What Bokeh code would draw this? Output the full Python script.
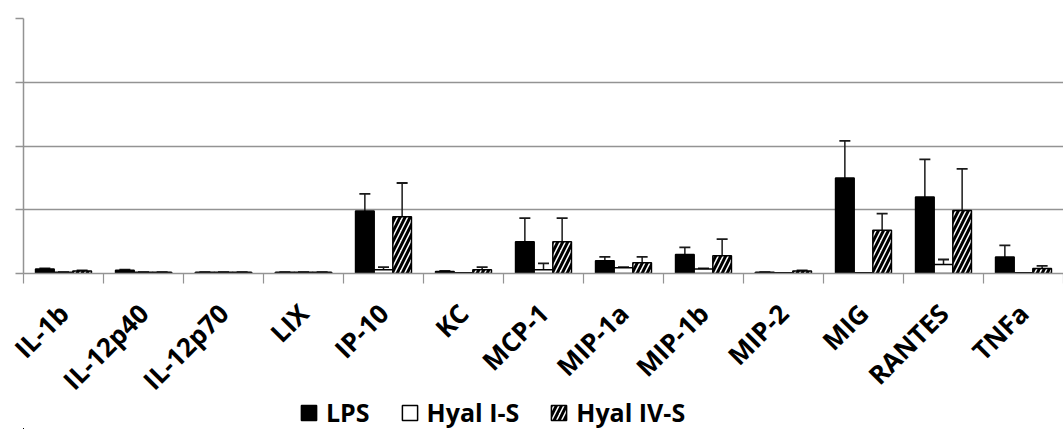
import math
from bokeh.plotting import figure
from bokeh.layouts import column
from bokeh.models import (ColumnDataSource, Range1d, FixedTicker, Whisker, TeeHead,
                          Legend, LegendItem)
from bokeh.transform import dodge
from bokeh.embed import file_html
from bokeh.resources import INLINE

categories = ["IL-1b", "IL-12p40", "IL-12p70", "LIX", "IP-10", "KC", "MCP-1",
              "MIP-1a", "MIP-1b", "MIP-2", "MIG", "RANTES", "TNFa"]
lps = [0.07, 0.05, 0.02, 0.02, 0.98, 0.03, 0.50, 0.20, 0.30, 0.02, 1.50, 1.20, 0.26]
lps_err = [0.01, 0.01, 0.0, 0.0, 0.27, 0.01, 0.37, 0.06, 0.11, 0.0, 0.58, 0.59, 0.18]
hyal1 = [0.02, 0.02, 0.02, 0.02, 0.06, 0.01, 0.06, 0.09, 0.07, 0.01, 0.01, 0.14, 0.01]
hyal1_err = [0.0, 0.0, 0.0, 0.0, 0.04, 0.0, 0.10, 0.01, 0.01, 0.0, 0.0, 0.08, 0.0]
hyal4 = [0.04, 0.02, 0.02, 0.02, 0.89, 0.06, 0.50, 0.17, 0.28, 0.04, 0.68, 0.99, 0.08]
hyal4_err = [0.01, 0.0, 0.0, 0.0, 0.53, 0.04, 0.37, 0.09, 0.26, 0.01, 0.26, 0.65, 0.04]
series_names = ["LPS", "Hyal I-S", "Hyal IV-S"]
y_ticks = [0, 1, 2, 3, 4]

n = len(categories)
centers = [i + 0.5 for i in range(n)]
bounds = [float(i) for i in range(n + 1)]

src = ColumnDataSource(dict(
    x=centers,
    lps=lps, lps_u=[a + b for a, b in zip(lps, lps_err)],
    h1=hyal1, h1_u=[a + b for a, b in zip(hyal1, hyal1_err)],
    h4=hyal4, h4_u=[a + b for a, b in zip(hyal4, hyal4_err)],
))

p = figure(width=1063, height=423, output_backend="svg", toolbar_location=None,
           x_range=Range1d(0, n), y_range=Range1d(0, 4),
           min_border_left=23, min_border_right=0, min_border_top=18,
           min_border_bottom=150)
p.outline_line_color = None
p.background_fill_color = "white"
p.border_fill_alpha = 0

GRID = "#939393"
# y axis
p.yaxis.ticker = FixedTicker(ticks=y_ticks)
p.yaxis.major_label_overrides = {t: " " for t in y_ticks}
p.yaxis.major_label_text_font_size = "1px"
p.yaxis.major_label_standoff = 0
p.yaxis.major_tick_out = 8
p.yaxis.major_tick_in = 0
p.yaxis.minor_tick_line_color = None
p.yaxis.axis_line_color = GRID
p.yaxis.major_tick_line_color = GRID
p.yaxis.axis_line_width = 1.5
p.yaxis.major_tick_line_width = 1.5
p.ygrid.grid_line_color = GRID
p.ygrid.grid_line_width = 1.5
p.xgrid.grid_line_color = None

# x axis: labels at centers, ticks at category boundaries
p.xaxis.ticker = FixedTicker(ticks=centers, minor_ticks=bounds)
p.xaxis.major_label_overrides = {c: name for c, name in zip(centers, categories)}
p.xaxis.major_tick_out = 0
p.xaxis.major_tick_in = 0
p.xaxis.minor_tick_out = 10
p.xaxis.minor_tick_in = 0
p.xaxis.minor_tick_line_color = GRID
p.xaxis.minor_tick_line_width = 1.2
p.xaxis.axis_line_color = GRID
p.xaxis.axis_line_width = 1.5
p.xaxis.major_label_orientation = math.pi / 4
p.xaxis.major_label_standoff = 25
p.xaxis.major_label_text_font = "Open Sans"
p.xaxis.major_label_text_font_style = "bold"
p.xaxis.major_label_text_font_size = "26px"
p.xaxis.major_label_text_color = "black"

W = 0.233
styles = [dict(fill_color="black", line_color="black", line_width=1.5),
          dict(fill_color="white", line_color="black", line_width=1.5),
          dict(fill_color="white", line_color="black", line_width=1.5,
               hatch_pattern="/", hatch_color="black", hatch_scale=10, hatch_weight=3)]
cols = [("lps", "lps_u"), ("h1", "h1_u"), ("h4", "h4_u")]
offsets = [-W, 0, W]

for off, (lo, up), st in zip(offsets, cols, styles):
    p.vbar(x=dodge("x", off), top=lo, width=W, source=src, **st)
    wk = Whisker(source=src, base=dodge("x", off), lower=lo, upper=up,
                 line_color="#1a1a1a", line_width=1.5, lower_head=None,
                 upper_head=TeeHead(size=11, line_color="#1a1a1a", line_width=1.8))
    p.add_layout(wk)

# legend strip below the chart (its bars lie outside its visible range)
lg = figure(width=1063, height=44, output_backend="svg", toolbar_location=None,
            x_range=Range1d(100, 101), y_range=Range1d(100, 101),
            x_axis_location=None, y_axis_location=None,
            min_border=0)
lg.margin = (-38, 0, 0, 0)
lg.outline_line_color = None
lg.grid.grid_line_color = None
lg.background_fill_alpha = 0
lg.border_fill_alpha = 0
items = []
for off, (lo, up), st, name in zip(offsets, cols, styles, series_names):
    r = lg.vbar(x=dodge("x", off), top=lo, width=W, source=src, **st)
    items.append(LegendItem(label=name, renderers=[r]))
legend = Legend(items=items, orientation="horizontal", location=(276, 0),
                glyph_width=19, glyph_height=19, label_standoff=8, spacing=30,
                padding=0, margin=0, border_line_color=None,
                background_fill_alpha=0,
                label_text_font="Open Sans", label_text_font_style="bold",
                label_text_font_size="25px", label_text_color="black")
lg.add_layout(legend)

layout = column(p, lg, spacing=0)
open("out.html", "w").write(file_html(layout, INLINE))
